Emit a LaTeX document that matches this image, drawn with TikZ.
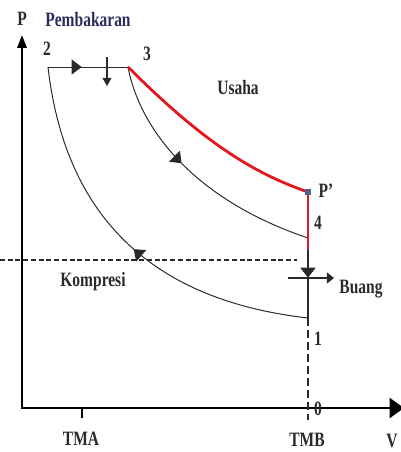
\documentclass[tikz,border=0pt]{standalone}
\usepackage{fontspec}
\setmainfont{Liberation Serif}[FakeStretch=0.76]
\usetikzlibrary{arrows.meta, decorations.markings}
\definecolor{cyRed}{HTML}{E3171E}
\definecolor{cyInk}{HTML}{2A2A2A}
\definecolor{cyNavy}{HTML}{2C2C5A}
\definecolor{cyMark}{HTML}{52628F}

\begin{document}
\begin{tikzpicture}[x=0.025cm, y=-0.025cm, font=\fontsize{14.5}{16}\selectfont\bfseries,
  axis/.style={line width=1.6pt, {Triangle[length=3.2mm, width=2.3mm]}-{Triangle[length=3.6mm, width=5mm]}},
  cyc/.style={cyInk, line width=0.7pt},
  work/.style={cyRed, line width=2pt},
  lbl/.style={inner sep=0pt, text=cyInk},
  flow/.style={postaction={decorate}, decoration={markings, mark=at position #1 with {\arrow{Triangle[length=2.5mm, width=3.8mm]}}}}]
\useasboundingbox (0,0) rectangle (400,452);
\coordinate (o) at (22,408);
\coordinate (ptop) at (22,35);
\coordinate (vend) at (404,408);
\coordinate (tma) at (82,408);
\coordinate (tmatick) at (82,418);
\coordinate (s2) at (48,67);
\coordinate (s3) at (128,67);
\coordinate (sp) at (308,192);
\coordinate (s4) at (308,238);
\coordinate (sr) at (308,250);
\coordinate (s1) at (308,318);
\coordinate (tmb) at (308,420);
\coordinate (dl) at (0,260);
\coordinate (dr) at (297,260);
\coordinate (bl) at (288,278);
\coordinate (br) at (334,278);
\coordinate (ha) at (107,57);
\coordinate (hb) at (107,86);
\draw[axis] (ptop) -- (o) -- (vend);
\draw[line width=0.8pt] (tma) -- (tmatick);
\draw[cyInk, line width=0.8pt, dash pattern=on 3.5pt off 2pt] (dl) -- (dr);
\draw[cyInk, line width=0.8pt, dash pattern=on 5.7pt off 2.8pt] (s1) -- (tmb);
\draw[cyc, flow=0.43] (s3) .. controls (140,130) and (195,200) .. (s4);
\draw[cyc, flow=0.48] (s1) .. controls (150,300) and (65,215) .. (s2);
\draw[cyc, flow=0.42] (s2) -- (s3);
\draw[cyc, line width=0.8pt, flow=0.68] (sp) -- (s1);
\draw[cyc, line width=0.8pt, -{Triangle[length=2mm, width=2.2mm]}] (ha) -- (hb);
\draw[cyc, line width=0.8pt, -{Triangle[length=1.8mm, width=2.8mm]}] (bl) -- (br);
\draw[work] (s3) .. controls (203,142) and (253,173) .. (sp);
\draw[work] (sp) -- (sr);
\node[fill=cyMark, minimum size=0.15cm, inner sep=0pt] (pmark) at (sp) {};
\node[lbl] (pl) at (22,19) {P};
\node[lbl, text=cyNavy] (pemb) at (88,20) {Pembakaran};
\node[lbl] (l2) at (47,49) {2};
\node[lbl] (l3) at (147,54) {3};
\node[lbl] (usaha) at (238,88) {Usaha};
\node[lbl] (lp) at (326,191) {P'};
\node[lbl] (l4) at (318,223) {4};
\node[lbl] (kompresi) at (93,282) {Kompresi};
\node[lbl] (buang) at (361,289) {Buang};
\node[lbl] (l1) at (318,339) {1};
\node[lbl] (l0) at (318,409) {0};
\node[lbl] (tmal) at (81,439) {TMA};
\node[lbl] (tmbl) at (307,440) {TMB};
\node[lbl] (vl) at (392,441) {V};
\end{tikzpicture}
\end{document}
